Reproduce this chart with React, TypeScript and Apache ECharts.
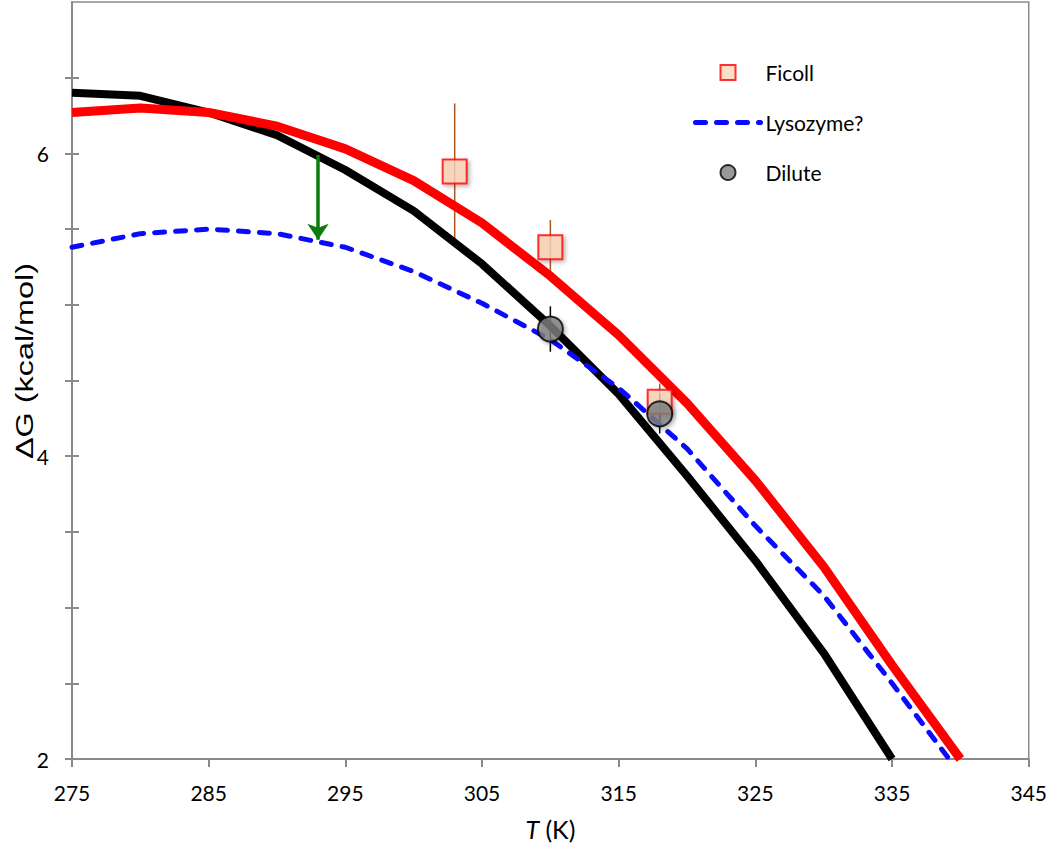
import React, { useEffect, useRef } from "react";
import * as echarts from "echarts";

// Temperatures (K) of the model curves
const temps = [275, 280, 285, 290, 295, 300, 305, 310, 315, 320, 325, 330, 335, 340];
// ΔG (kcal/mol) model curves
const blackCurve = [6.4, 6.38, 6.27, 6.12, 5.89, 5.62, 5.27, 4.86, 4.41, 3.87, 3.31, 2.7, 2.0];
const redCurve = [6.27, 6.3, 6.27, 6.18, 6.03, 5.82, 5.54, 5.19, 4.8, 4.35, 3.84, 3.27, 2.62, 2.0];
const lysozymeCurve = [5.38, 5.47, 5.5, 5.47, 5.38, 5.22, 5.01, 4.77, 4.45, 4.05, 3.54, 3.08, 2.5, 1.9];

// Measured points
const ficollT = [303, 310, 318];
const ficollG = [5.88, 5.38, 4.36];
const ficollErr = [0.45, 0.18, 0.12];
const diluteT = [310, 318];
const diluteG = [4.84, 4.28];
const diluteErr = [0.15, 0.13];

// Arrow (crowding effect)
const arrowT = 293;
const arrowFrom = 5.99;
const arrowTo = 5.43;

// Axis ticks
const xTicks = [275, 285, 295, 305, 315, 325, 335, 345];
const yTicks = [2, 2.5, 3, 3.5, 4, 4.5, 5, 5.5, 6, 6.5];
const yLabels = [2, 4, 6];

const AXIS_GRAY = "#8a8a8a";
const FONT = "Lato";
const BLUE_DASH = { color: "#0a0aff", width: 5, type: [10, 11], cap: "round" };

function errorSeries(name: string, xs: number[], ys: number[], errs: number[], color: string) {
  return {
    name,
    type: "custom",
    data: xs.map((x, i) => [x, ys[i] - errs[i], ys[i] + errs[i]]),
    encode: { x: 0, y: [1, 2] },
    silent: true,
    renderItem: (_params: any, api: any) => {
      const x = api.value(0);
      const p1 = api.coord([x, api.value(1)]);
      const p2 = api.coord([x, api.value(2)]);
      return {
        type: "line",
        shape: { x1: p1[0], y1: p1[1], x2: p2[0], y2: p2[1] },
        style: { stroke: color, lineWidth: 1.5 },
      };
    },
  };
}

export default function App() {
  const ref = useRef<HTMLDivElement>(null);

  useEffect(() => {
    if (!ref.current) return;
    const chart = echarts.init(ref.current, undefined, { renderer: "svg" });
    const option: any = {
      animation: false,
      backgroundColor: "#ffffff",
      grid: {
        left: 72,
        right: 18,
        top: 2,
        bottom: 91,
        show: true,
        borderColor: AXIS_GRAY,
        borderWidth: 1.5,
        backgroundColor: "transparent",
      },
      legend: {
        data: [
          { name: "Ficoll", icon: "path://M0,0H10V10H0Z" },
          { name: "Lysozyme?", itemStyle: { opacity: 0 }, lineStyle: { ...BLUE_DASH } },
          { name: "Dilute", icon: "circle" },
        ],
        orient: "vertical",
        left: 688,
        top: 57,
        itemGap: 29,
        itemWidth: 65,
        itemHeight: 15,
        symbolKeepAspect: true,
        selectedMode: false,
        textStyle: { fontFamily: FONT, fontSize: 21, color: "#000" },
      },
      graphic: [
        {
          type: "text",
          x: 25,
          y: 361,
          rotation: Math.PI / 2,
          scaleX: 1.35,
          style: {
            text: "ΔG (kcal/mol)",
            fontFamily: "Liberation Sans",
            fontSize: 24,
            fill: "#000",
            align: "center",
            verticalAlign: "middle",
          },
        },
      ],
      xAxis: {
        type: "value",
        min: 275,
        max: 345,
        splitLine: { show: false },
        axisLine: { show: true, lineStyle: { color: AXIS_GRAY, width: 2 } },
        axisTick: {
          show: true,
          length: 8,
          customValues: xTicks,
          lineStyle: { color: AXIS_GRAY, width: 2 },
        },
        axisLabel: {
          customValues: xTicks,
          margin: 23,
          fontFamily: FONT,
          fontSize: 21,
          color: "#000",
        },
        name: "{i|T} (K)",
        nameLocation: "middle",
        nameGap: 57,
        nameMoveOverlap: false,
        nameTextStyle: {
          fontFamily: FONT,
          fontSize: 25,
          color: "#000",
          rich: { i: { fontStyle: "italic", fontFamily: FONT, fontSize: 25, color: "#000" } },
        },
      },
      yAxis: [
        {
          type: "value",
          min: 2,
          max: 7,
          splitLine: { show: false },
          axisLine: { show: true, lineStyle: { color: AXIS_GRAY, width: 2 } },
          axisTick: {
            show: true,
            length: 7,
            customValues: yTicks,
            lineStyle: { color: AXIS_GRAY, width: 2 },
          },
          axisLabel: {
            customValues: yLabels,
            margin: 23,
            fontFamily: FONT,
            fontSize: 21,
            color: "#000",
          },
        },
        {
          type: "value",
          min: 2,
          max: 7,
          position: "left",
          splitLine: { show: false },
          axisLine: { show: false },
          axisLabel: { show: false },
          axisTick: {
            show: true,
            inside: true,
            length: 7,
            customValues: yTicks,
            lineStyle: { color: AXIS_GRAY, width: 2 },
          },
        },
      ],
      series: [
        errorSeries("Ficoll error", ficollT, ficollG, ficollErr, "#b0561e"),
        errorSeries("Dilute error", diluteT, diluteG, diluteErr, "#000000"),
        {
          name: "Model",
          type: "line",
          data: blackCurve.map((v, i) => [temps[i], v]),
          symbol: "none",
          lineStyle: { color: "#000000", width: 8 },
          itemStyle: { color: "#000000" },
          clip: true,
          z: 3,
        },
        {
          name: "Model Ficoll",
          type: "line",
          data: redCurve.map((v, i) => [temps[i], v]),
          symbol: "none",
          lineStyle: { color: "#ff0000", width: 9 },
          itemStyle: { color: "#ff0000" },
          clip: true,
          z: 3,
        },
        {
          name: "Lysozyme?",
          type: "line",
          data: lysozymeCurve.map((v, i) => [temps[i], v]),
          symbol: "none",
          showSymbol: false,
          lineStyle: { ...BLUE_DASH },
          itemStyle: { color: "#0a0aff" },
          clip: true,
          z: 3,
        },
        {
          name: "Ficoll",
          type: "scatter",
          data: ficollT.map((t, i) => [t, ficollG[i]]),
          symbol: "rect",
          symbolSize: 24,
          itemStyle: {
            color: "#fcd5b5",
            borderColor: "#ff0000",
            borderWidth: 2,
            shadowColor: "rgba(0,0,0,0.35)",
            shadowBlur: 4,
            shadowOffsetX: 2,
            shadowOffsetY: 2,
          },
          z: 4,
        },
        {
          name: "Dilute",
          type: "scatter",
          data: diluteT.map((t, i) => [t, diluteG[i]]),
          symbol: "circle",
          symbolSize: 25,
          itemStyle: {
            color: "#808080",
            borderColor: "#000000",
            borderWidth: 2,
            shadowColor: "rgba(0,0,0,0.35)",
            shadowBlur: 4,
            shadowOffsetX: 2,
            shadowOffsetY: 2,
          },
          z: 5,
        },
        {
          name: "Arrow",
          type: "lines",
          coordinateSystem: "cartesian2d",
          data: [{ coords: [[arrowT, arrowFrom], [arrowT, arrowTo]] }],
          symbol: ["none", "arrow"],
          symbolSize: [14, 16],
          lineStyle: { color: "#0a7d0a", width: 3.5, opacity: 1 },
          z: 6,
        },
      ],
    };
    chart.setOption(option);
    return () => chart.dispose();
  }, []);

  return (
    <div
      ref={ref}
      style={{ position: "fixed", left: 0, top: 0, width: 1050, height: 850, background: "#fff" }}
    />
  );
}
